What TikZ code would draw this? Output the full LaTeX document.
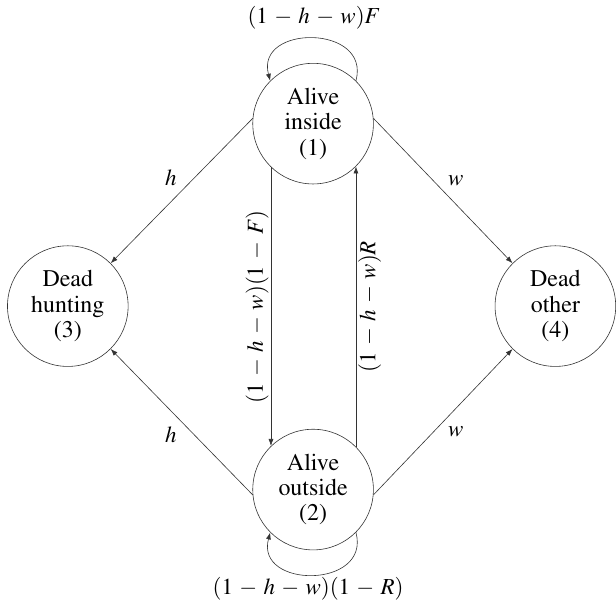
\documentclass[tikz,border=0pt]{standalone}
\usepackage[T1]{fontenc}
\usepackage{mathptmx}
\usetikzlibrary{arrows.meta,positioning}
\newcommand{\widemath}{\medmuskip=5mu\relax}

\begin{document}
\begin{tikzpicture}[x=1pt,y=-1pt,>={Latex[length=7pt,width=5pt]},line cap=round,line join=round]
\path[fill=white] (0,0) rectangle (616,608);
\tikzset{stage/.style={draw=black!80,line width=0.6pt,circle,minimum size=121pt,inner sep=0pt,align=center,font=\fontsize{24}{25.5}\selectfont},link/.style={draw=black!80,line width=0.6pt,->},lbl/.style={font=\fontsize{23}{25}\selectfont,execute at begin node=\widemath}}
\node[stage] (alivein) at (314,124) {Alive\\inside\\(1)};
\node[stage] (aliveout) at (314,491) {Alive\\outside\\(2)};
\node[stage] (deadhunt) at (68,307) {Dead\\hunting\\(3)};
\node[stage] (deadother) at (557,307) {Dead\\other\\(4)};
% loops
\draw[link] (alivein.45) to[out=75,in=105,looseness=1.75] (alivein.135);
\node[lbl] (loopF) at (315,18) {$(1-h-w)F$};
\draw[link] (aliveout.-45) to[out=-75,in=-105,looseness=1.75] (aliveout.-135);
\node[lbl] (loopR) at (309,590) {$(1-h-w)(1-R)$};
% between the alive states
\draw[link] (alivein.-134.4) -- node[lbl,rotate=90,anchor=south,inner sep=2pt] {$(1-h-w)(1-F)$} (aliveout.134.4);
\draw[link] (aliveout.45.6) -- node[lbl,rotate=90,anchor=north,inner sep=2pt] {$(1-h-w)R$} (alivein.-45.6);
% deaths
\draw[link] (alivein.175) -- node[lbl,above left=2pt] {$h$} (deadhunt.45);
\draw[link] (aliveout.185) -- node[lbl,below left=2pt] {$h$} (deadhunt.-45);
\draw[link] (alivein.5) -- node[lbl,above right=2pt] {$w$} (deadother.135);
\draw[link] (aliveout.-5) -- node[lbl,below right=2pt] {$w$} (deadother.-135);
\end{tikzpicture}
\end{document}
